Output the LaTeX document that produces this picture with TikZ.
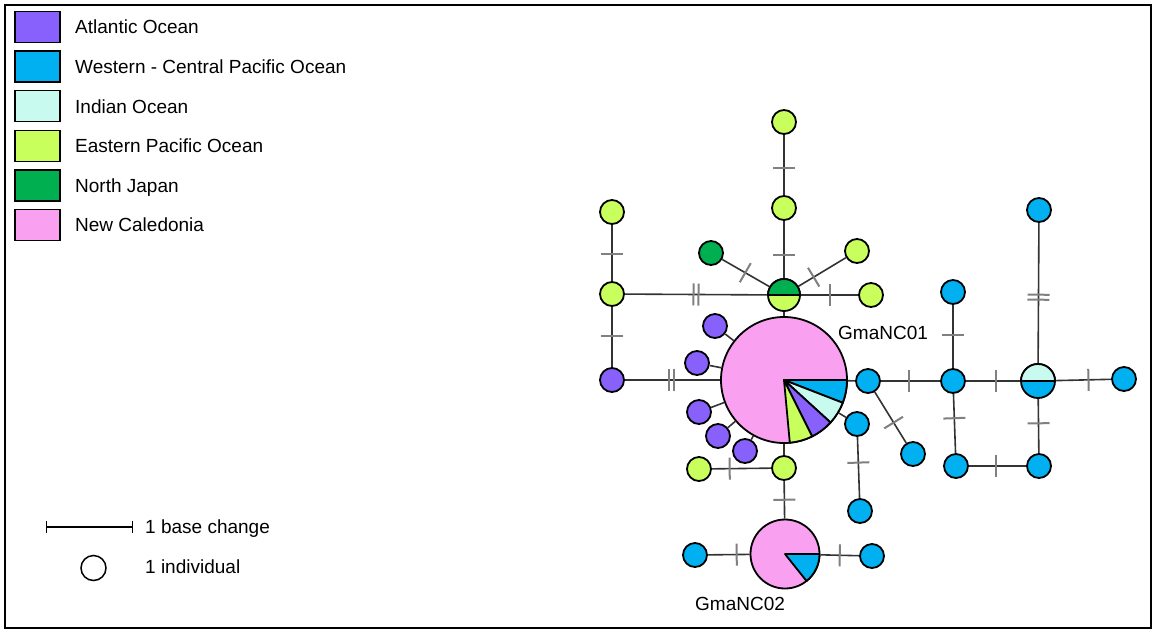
\documentclass[tikz,border=0pt]{standalone}
\usepackage{fontspec}
\setmainfont{Liberation Sans}
\usetikzlibrary{decorations.markings, arrows.meta}
\definecolor{atlantic}{RGB}{136,96,252}
\definecolor{wcpac}{RGB}{0,176,240}
\definecolor{indian}{RGB}{200,250,240}
\definecolor{epac}{RGB}{200,255,92}
\definecolor{njapan}{RGB}{0,176,80}
\definecolor{ncal}{RGB}{250,160,240}
\tikzset{
hap/.style={circle, draw, line width=1.8pt, minimum size=24, inner sep=0pt}, % one haplotype circle
link/.style={draw=black!80, line width=1.6pt}, % edge of the network
tick/.style={postaction={decorate, decoration={markings, mark=at position #1 with {\draw[black!50, line width=2pt] (0,-11) -- (0,11);}}}}, % one base change
tick/.default=0.5,
ticks/.style={postaction={decorate, decoration={markings, mark=at position #1 with {\draw[black!50, line width=2pt] (-2.5,-11) -- (-2.5,11) (2.5,-11) -- (2.5,11);}}}}, % two base changes
ticks/.default=0.5,
slice/.style={draw, line width=1.8pt, line join=round}, % part of a pie
key/.style={draw, line width=1.5pt, minimum width=45, minimum height=31, inner sep=0pt}, % legend box
label/.style={anchor=base west, inner sep=0pt},
every node/.style={font=\fontsize{19}{23}\selectfont},
}

\begin{document}
\begin{tikzpicture}[x=1pt, y=-1pt]
    \useasboundingbox (0,0) rectangle (1157,633);
    \draw[line width=1.8pt, fill=white] (5,5) rectangle (1151,628);

    % legend
    \foreach \c/\t [count=\i from 0] in {atlantic/Atlantic Ocean, wcpac/Western - Central Pacific Ocean, indian/Indian Ocean, epac/Eastern Pacific Ocean, njapan/North Japan, ncal/New Caledonia}{
        \node[key, fill=\c] (k\i) at (37.5,{27+39.6*\i}) {};
        \node[label] (t\i) at (75,{33.8+39.6*\i}) {\t};
    }
    \coordinate (b0) at (46,527);
    \coordinate (b1) at (133,527);
    \draw[line width=1.4pt, {Bar[width=12pt]}-{Bar[width=12pt]}] (b0) -- (b1);
    \node[label] (bc) at (145,533.8) {1 base change};
    \node[hap, fill=white, minimum size=25, line width=1.5pt] (one) at (93.5,568) {};
    \node[label] (oi) at (145,573.8) {1 individual};

    % pies
    \node[hap, fill=ncal, minimum size=126] (nc1) at (784,380) {};
    \foreach \a/\b/\c in {0/21.2/wcpac, 21.2/42.4/indian, 42.4/63.5/atlantic, 63.5/84.7/epac}
        \draw[slice, fill=\c] (nc1.center) -- ++(\a:63) arc[start angle=\a, end angle=\b, radius=63] -- cycle;
    \node[label] (l1) at (838,339.8) {GmaNC01};
    \node[hap, fill=ncal, minimum size=69] (nc2) at (785,554) {};
    \draw[slice, fill=wcpac] (nc2.center) -- ++(0:34.5) arc[start angle=0, end angle=51.4, radius=34.5] -- cycle;
    \node[label] (l2) at (695,610.8) {GmaNC02};

    % shared haplotypes
    \node[hap, fill=epac, minimum size=32] (s1) at (784,295) {};
    \draw[slice, fill=njapan] (s1.center) ++(-16,0) arc[start angle=180, end angle=360, radius=16] -- cycle;
    \node[hap, fill=wcpac, minimum size=34] (s2) at (1038,381) {};
    \draw[slice, fill=indian] (s2.center) ++(-17,0) arc[start angle=180, end angle=360, radius=17] -- cycle;

    % Eastern Pacific and North Japan
    \node[hap, fill=epac] (ep1) at (784,122) {};
    \node[hap, fill=epac] (ep2) at (784,208) {};
    \node[hap, fill=epac] (ep3) at (857,251) {};
    \node[hap, fill=epac] (ep4) at (871,295) {};
    \node[hap, fill=epac] (ep5) at (612,212) {};
    \node[hap, fill=epac] (ep6) at (612,294) {};
    \node[hap, fill=epac] (ep7) at (784,468) {};
    \node[hap, fill=epac] (ep8) at (699,469) {};
    \node[hap, fill=njapan] (nj1) at (711,253) {};

    % Atlantic
    \node[hap, fill=atlantic] (at1) at (612,380) {};
    \node[hap, fill=atlantic] (at2) at (715,326) {};
    \node[hap, fill=atlantic] (at3) at (697,363) {};
    \node[hap, fill=atlantic] (at4) at (699,412) {};
    \node[hap, fill=atlantic] (at5) at (718,436) {};
    \node[hap, fill=atlantic] (at6) at (745,451) {};

    % Western - Central Pacific
    \node[hap, fill=wcpac] (wc1) at (868,381) {};
    \node[hap, fill=wcpac] (wc2) at (913,454) {};
    \node[hap, fill=wcpac] (wc3) at (953,381) {};
    \node[hap, fill=wcpac] (wc4) at (953,292) {};
    \node[hap, fill=wcpac] (wc5) at (956,466) {};
    \node[hap, fill=wcpac] (wc6) at (1039,210) {};
    \node[hap, fill=wcpac] (wc7) at (1124,379) {};
    \node[hap, fill=wcpac] (wc8) at (1039,466) {};
    \node[hap, fill=wcpac] (wc9) at (857,424) {};
    \node[hap, fill=wcpac] (wc10) at (860,511) {};
    \node[hap, fill=wcpac] (wc11) at (695,555) {};
    \node[hap, fill=wcpac] (wc12) at (872,556) {};

    % edges
    \draw[link, tick=0.55] (ep1) -- (ep2);
    \draw[link, tick=0.4] (s1) -- (ep2);
    \draw[link, tick=0.49] (nj1) -- (s1);
    \draw[link, tick=0.32] (s1) -- (ep3);
    \draw[link, tick=0.51] (s1) -- (ep4);
    \draw[link, tick=0.52] (ep5) -- (ep6);
    \draw[link, ticks] (ep6) -- (s1);
    \draw[link, tick=0.48] (ep6) -- (at1);
    \draw[link, ticks=0.49] (at1) -- (nc1);
    \draw[link] (s1) -- (nc1);
    \foreach \n in {at2, at3, at4, at5, at6, ep7, wc1, wc9}
        \draw[link] (nc1) -- (\n);
    \draw[link, tick] (ep7) -- (nc2);
    \draw[link, tick=0.3] (ep8) -- (ep7);
    \draw[link, tick=0.42] (wc9) -- (wc10);
    \draw[link, tick=0.48] (wc1) -- (wc3);
    \draw[link, tick=0.6] (wc1) -- (wc2);
    \draw[link, tick=0.53] (wc3) -- (wc4);
    \draw[link, tick=0.41] (wc3) -- (wc5);
    \draw[link, tick=0.55] (wc3) -- (s2);
    \draw[link, ticks=0.47] (s2) -- (wc6);
    \draw[link, tick=0.59] (s2) -- (wc7);
    \draw[link, tick=0.45] (s2) -- (wc8);
    \draw[link, tick=0.47] (wc5) -- (wc8);
    \draw[link, tick=0.31] (nc2) -- (wc11);
    \draw[link, tick] (nc2) -- (wc12);
\end{tikzpicture}
\end{document}
